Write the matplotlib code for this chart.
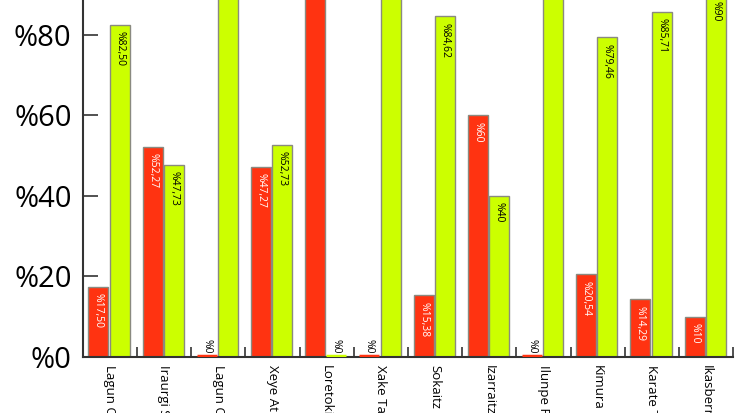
import matplotlib as mpl
mpl.use('Agg')
import matplotlib.pyplot as plt
import numpy as np

plt.rcParams['font.family'] = ['Open Sans', 'DejaVu Sans']

# club names (cut off by the bottom edge of the picture)
clubs = ["Lagun Onak", "Iraurgi Saskibaloia", "Lagun Onak Gimnasia", "Xeye Atletismo",
         "Loretoki", "Xake Taldea", "Sokaitz", "Izarraitz", "Ilunpe Fitness",
         "Kimura", "Karate Taldea", "Ikasberri"]
red_vals = [17.50, 52.27, 0, 47.27, 100, 0, 15.38, 60, 0, 20.54, 14.29, 10]
green_vals = [82.50, 47.73, 100, 52.73, 0, 100, 84.62, 40, 100, 79.46, 85.71, 90]
yticks = [0, 20, 40, 60, 80, 100]

red = '#ff3311'
green = '#ccff00'
edge = '#8a8a80'

def fmt(v):
    if v == int(v):
        return "%" + str(int(v))
    return "%" + ("%.2f" % v).replace('.', ',')

fig = plt.figure(figsize=(7.35, 4.13), dpi=100)
ax = fig.add_axes([0.1125, 0.1356, 0.885, 0.9746])

n = len(clubs)
x = np.arange(n)
w = 0.37
xr = x + 0.29
xg = x + 0.68

for xs, vals, col, tcol in [(xr, red_vals, red, 'white'), (xg, green_vals, green, 'black')]:
    for xi, v in zip(xs, vals):
        if v > 0:
            ax.bar(xi, v, width=w, color=col, edgecolor=edge, linewidth=1.0, zorder=2)
            ax.text(xi, v - 1.6, fmt(v), rotation=-90, ha='center', va='top',
                    color=tcol, fontsize=7.5, zorder=3)
        else:
            ax.plot([xi - w / 2, xi + w / 2], [0.3, 0.3], color=col, linewidth=2.5, zorder=3,
                    solid_capstyle='butt')
            ax.text(xi, 0.8, fmt(v), rotation=-90, ha='center', va='bottom',
                    color='black', fontsize=7.5, zorder=3)

ax.set_xlim(0, n)
ax.set_ylim(0, 100)
ax.set_yticks(yticks)
ax.set_yticklabels(["%" + str(t) for t in yticks], fontsize=21)
ax.tick_params(axis='y', direction='in', length=11, width=1.2, color='#333333', pad=8)

ax.set_xticks(x + 0.5)
ax.set_xticklabels(clubs, rotation=-90, fontsize=9.5)
ax.tick_params(axis='x', which='major', length=0, pad=6)
ax.set_xticks(np.arange(1, n + 1), minor=True)
ax.tick_params(axis='x', which='minor', direction='in', length=7, width=1.2, color='#333333')

for s in ['top', 'right']:
    ax.spines[s].set_visible(False)
for s in ['left', 'bottom']:
    ax.spines[s].set_linewidth(1.5)
    ax.spines[s].set_color('#333333')

fig.savefig('out.png', dpi=100)
